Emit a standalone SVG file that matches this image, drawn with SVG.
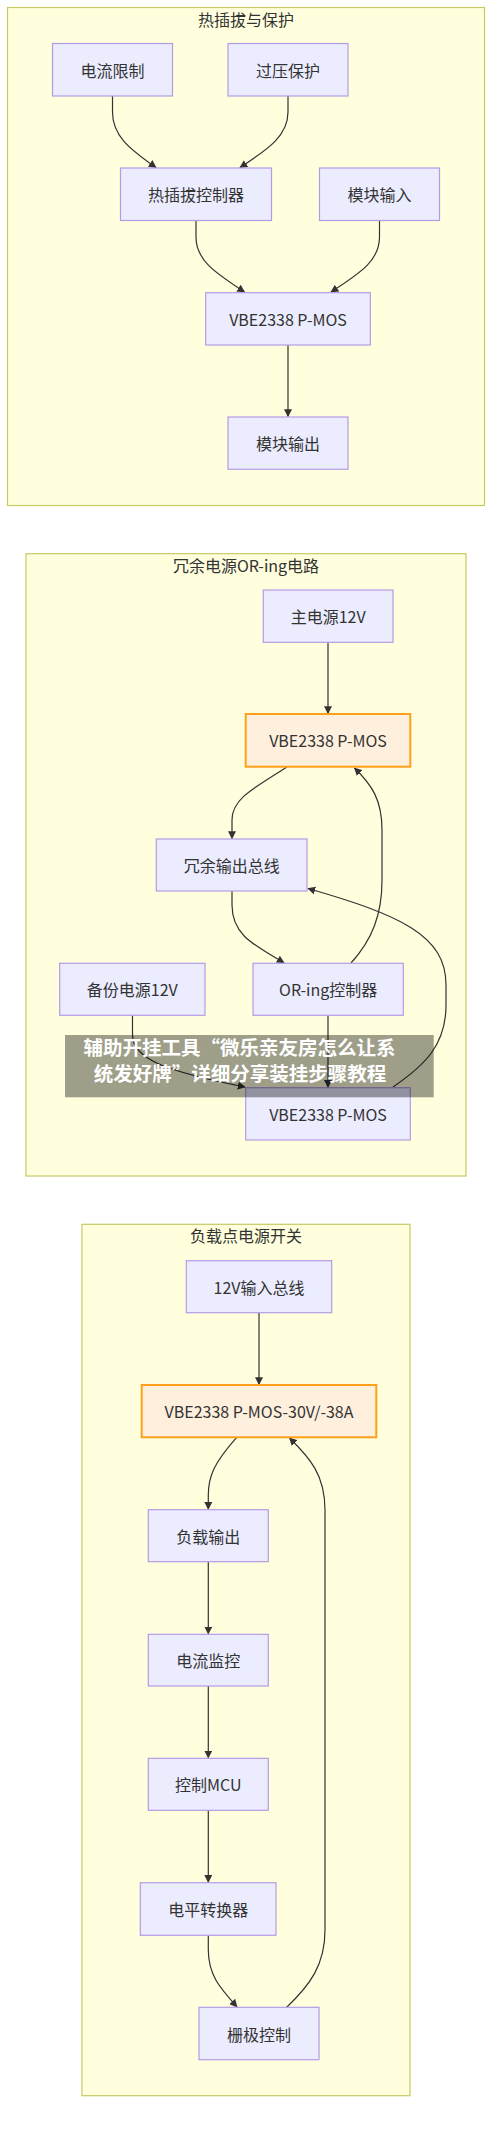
<svg xmlns="http://www.w3.org/2000/svg" width="500" height="2133" viewBox="0 0 500 2133">
<style>
.cl{fill:#ffffde;stroke:#c8c864;stroke-width:1.2}
.nd{fill:#ececff;stroke:#b49be6;stroke-width:1.2}
.hl{fill:#fff0de;stroke:#ff9f1a;stroke-width:2}
.t{font-family:"Noto Sans CJK SC","Noto Sans",sans-serif;font-size:16px;fill:#333;text-anchor:middle;dominant-baseline:central}
.e{fill:none;stroke:#333;stroke-width:1.2}
.ov{fill:#000;fill-opacity:0.38}
.ot{font-family:"Noto Sans CJK SC",sans-serif;font-size:19.5px;font-weight:bold;fill:#fff;text-anchor:middle}
</style>
<defs>
<marker id="arr" viewBox="0 0 10 10" refX="9" refY="5" markerUnits="userSpaceOnUse" markerWidth="8" markerHeight="8" orient="auto">
<path d="M0,0 L10,5 L0,10 z" fill="#333"/>
</marker>
</defs>
<rect width="500" height="2133" fill="#fff"/>

<g id="cluster1">
<rect class="cl" x="7.5" y="7.5" width="477" height="498"/>
<text class="t" x="246" y="18.5">热插拔与保护</text>
</g>
<g id="cluster2">
<rect class="cl" x="26" y="553.7" width="440" height="622.3"/>
<text class="t" x="246" y="565">冗余电源OR-ing电路</text>
</g>
<g id="cluster3">
<rect class="cl" x="82" y="1224.3" width="328" height="871.4"/>
<text class="t" x="246" y="1235">负载点电源开关</text>
</g>

<g id="connectors">
<path class="e" marker-end="url(#arr)" d="M112.5,96 L112.5,112 C112.5,135 128,148 156,167.5"/>
<path class="e" marker-end="url(#arr)" d="M288,96 L288,112 C288,135 270,148 240,167.5"/>
<path class="e" marker-end="url(#arr)" d="M196,220.5 L196,237 C196,260 214,272 244.5,292"/>
<path class="e" marker-end="url(#arr)" d="M379.5,220.5 L379.5,237 C379.5,260 362,272 331,292"/>
<path class="e" marker-end="url(#arr)" d="M288,345 L288,416.5"/>

<path class="e" marker-end="url(#arr)" d="M328,642.3 L328,713.5"/>
<path class="e" marker-end="url(#arr)" d="M287,767 C250,790 232,800 232,820 L232,838.5"/>
<path class="e" marker-end="url(#arr)" d="M232,891 L232,905 C232,935 254,945 284,962.8"/>
<path class="e" marker-end="url(#arr)" d="M351,963 C372,940 382,915 382,880 L382,830 C382,800 372,785 354.5,768"/>
<path class="e" marker-end="url(#arr)" d="M393,1087 C425,1065 446,1045 446,1005 L446,985 C446,935 400,915 308,888.5"/>
<path class="e" marker-end="url(#arr)" d="M132.5,1015.3 L132.5,1035 C132.5,1060 170,1072 245,1087"/>
<path class="e" marker-end="url(#arr)" d="M328,1015.3 L328,1087.2"/>

<path class="e" marker-end="url(#arr)" d="M259,1312.7 L259,1384.5"/>
<path class="e" marker-end="url(#arr)" d="M236.7,1437.3 C215,1462 208.3,1475 208.3,1495 L208.3,1509.2"/>
<path class="e" marker-end="url(#arr)" d="M208.3,1561.7 L208.3,1633.8"/>
<path class="e" marker-end="url(#arr)" d="M208.3,1686 L208.3,1757.8"/>
<path class="e" marker-end="url(#arr)" d="M208.3,1810.3 L208.3,1882.2"/>
<path class="e" marker-end="url(#arr)" d="M208.3,1935.3 L208.3,1950 C208.3,1975 220,1988 237,2006.8"/>
<path class="e" marker-end="url(#arr)" d="M286.7,2007.3 C310,1985 325,1965 325,1930 L325,1510 C325,1475 310,1458 289.5,1438"/>
</g>

<g id="n_current_limit"><rect class="nd" x="52.5" y="43.5" width="120" height="52.5"/><text class="t" x="112.5" y="69.75">电流限制</text></g>
<g id="n_overvoltage"><rect class="nd" x="228" y="43.5" width="120" height="52.5"/><text class="t" x="288" y="69.75">过压保护</text></g>
<g id="n_hotswap_ctrl"><rect class="nd" x="120.5" y="168" width="151" height="52.5"/><text class="t" x="196" y="194.25">热插拔控制器</text></g>
<g id="n_module_in"><rect class="nd" x="319.5" y="168" width="120" height="52.5"/><text class="t" x="379.5" y="194.25">模块输入</text></g>
<g id="n_vbe_a"><rect class="nd" x="205.7" y="292.7" width="164.6" height="52.3"/><text class="t" x="288" y="318.85">VBE2338 P-MOS</text></g>
<g id="n_module_out"><rect class="nd" x="228" y="417" width="120" height="52.3"/><text class="t" x="288" y="443.15">模块输出</text></g>

<g id="n_main12"><rect class="nd" x="263.3" y="590" width="129.7" height="52.3"/><text class="t" x="328.2" y="616.2">主电源12V</text></g>
<g id="n_vbe_b1"><rect class="hl" x="245.7" y="714" width="164.6" height="52.7"/><text class="t" x="328" y="740.3">VBE2338 P-MOS</text></g>
<g id="n_bus"><rect class="nd" x="156.3" y="839" width="150.7" height="52"/><text class="t" x="231.7" y="865">冗余输出总线</text></g>
<g id="n_backup12"><rect class="nd" x="59.7" y="963.3" width="145.3" height="52"/><text class="t" x="132.3" y="989.3">备份电源12V</text></g>
<g id="n_oring"><rect class="nd" x="253" y="963.3" width="150.3" height="52"/><text class="t" x="328.2" y="989.3">OR-ing控制器</text></g>
<g id="n_vbe_b2"><rect class="nd" x="245.7" y="1087.7" width="164.6" height="52.3"/><text class="t" x="328" y="1113.8">VBE2338 P-MOS</text></g>

<g id="n_bus12"><rect class="nd" x="186.3" y="1260.7" width="145.4" height="52"/><text class="t" x="259" y="1286.7">12V输入总线</text></g>
<g id="n_vbe_c"><rect class="hl" x="141.7" y="1385" width="234.6" height="52.3"/><text class="t" x="259" y="1411.2">VBE2338 P-MOS-30V/-38A</text></g>
<g id="n_load_out"><rect class="nd" x="148.3" y="1509.7" width="120" height="52"/><text class="t" x="208.3" y="1535.7">负载输出</text></g>
<g id="n_cur_mon"><rect class="nd" x="148.3" y="1634.3" width="120" height="51.7"/><text class="t" x="208.3" y="1660.2">电流监控</text></g>
<g id="n_mcu"><rect class="nd" x="148.3" y="1758.3" width="120" height="52"/><text class="t" x="208.3" y="1784.3">控制MCU</text></g>
<g id="n_level"><rect class="nd" x="140.3" y="1882.7" width="135.7" height="52.6"/><text class="t" x="208.2" y="1909">电平转换器</text></g>
<g id="n_gate"><rect class="nd" x="199" y="2007.3" width="120" height="52.4"/><text class="t" x="259" y="2033.5">栅极控制</text></g>

<g id="overlay">
<rect class="ov" x="65" y="1035" width="368.7" height="62.3"/>
<text class="ot" x="239.5" y="1055">辅助开挂工具“微乐亲友房怎么让系</text>
<text class="ot" x="240" y="1081">统发好牌”详细分享装挂步骤教程</text>
</g>
</svg>
